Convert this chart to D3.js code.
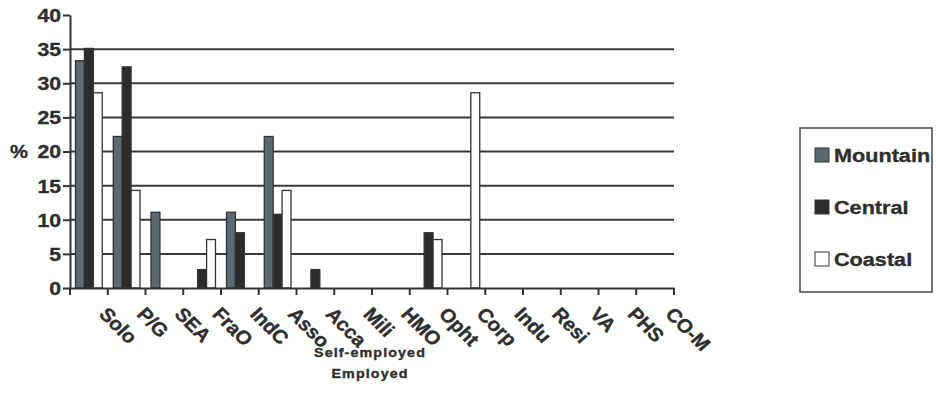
<!DOCTYPE html>
<html>
<head>
<meta charset="utf-8">
<script src="https://cdn.jsdelivr.net/npm/d3@7/dist/d3.min.js"></script>
<style>
  html, body { margin: 0; padding: 0; background: #ffffff; }
  svg { display: block; }
  text { font-family: "Liberation Sans", Arial, sans-serif; font-weight: bold; fill: #2e2e2e;
         stroke: #2e2e2e; stroke-width: 0.35px; }
</style>
</head>
<body>
<svg id="chart" width="936" height="413"></svg>
<script>
// Practice types along the x axis
const categories = ["Solo", "P/G", "SEA", "FraO", "IndC", "Asso", "Acca", "Mili",
                    "HMO", "Opht", "Corp", "Indu", "Resi", "VA", "PHS", "CO-M"];

// Percent of respondents in each region
const mountain = [33.3, 22.2, 11.1, 0, 11.1, 22.2, 0, 0, 0, 0, 0, 0, 0, 0, 0, 0];
const central  = [35.1, 32.4, 0, 2.7, 8.1, 10.8, 2.7, 0, 0, 8.1, 0, 0, 0, 0, 0, 0];
const coastal  = [28.6, 14.3, 0, 7.1, 0, 14.3, 0, 0, 0, 7.1, 28.6, 0, 0, 0, 0, 0];

const seriesNames = ["Mountain", "Central", "Coastal"];
const yTicks = [0, 5, 10, 15, 20, 25, 30, 35, 40];
const gridValues = [5, 10, 15, 20, 25, 30, 35];
const xTitleLines = ["Self-employed", "Employed"];

const fills = { Mountain: "#5d6971", Central: "#2c2c2c", Coastal: "#ffffff" };
const ink = "#333333";

const svg = d3.select("#chart");

const plot = { left: 70, right: 674, top: 15, bottom: 288 };

const x = d3.scaleBand().domain(categories).range([plot.left, plot.right]).padding(0);
const y = d3.scaleLinear().domain([0, 40]).range([plot.bottom, plot.top]);

const barW = x.bandwidth() * 0.236;
const xs = d3.scaleBand().domain(seriesNames)
  .range([(x.bandwidth() - 3 * barW) / 2, (x.bandwidth() + 3 * barW) / 2]).padding(0);

// horizontal gridlines
svg.append("g").selectAll("line").data(gridValues).join("line")
  .attr("x1", plot.left).attr("x2", plot.right)
  .attr("y1", d => y(d)).attr("y2", d => y(d))
  .attr("stroke", "#3a3a3a").attr("stroke-width", 2);

// bars
const rows = categories.map((c, i) => ({ cat: c, Mountain: mountain[i], Central: central[i], Coastal: coastal[i] }));
const groups = svg.append("g").selectAll("g").data(rows).join("g")
  .attr("transform", d => `translate(${x(d.cat)},0)`);
groups.selectAll("rect")
  .data(d => seriesNames.map(k => ({ key: k, value: d[k] })).filter(v => v.value > 0))
  .join("rect")
  .attr("x", d => xs(d.key))
  .attr("width", xs.bandwidth())
  .attr("y", d => y(d.value))
  .attr("height", d => y(0) - y(d.value))
  .attr("fill", d => fills[d.key])
  .attr("stroke", ink).attr("stroke-width", 1.3);

// y axis
const yAxis = d3.axisLeft(y).tickValues(yTicks).tickSize(7).tickPadding(3).tickSizeOuter(0);
const gy = svg.append("g").attr("transform", `translate(${plot.left},0)`).call(yAxis);
gy.select(".domain").attr("stroke", ink).attr("stroke-width", 2);
gy.selectAll(".tick line").attr("stroke", ink).attr("stroke-width", 2);
gy.selectAll(".tick text")
  .attr("font-size", 18).attr("font-family", null).attr("fill", null)
  .attr("x", null).attr("dy", "0.36em").attr("text-anchor", "end")
  .attr("transform", "translate(-9,0) scale(1.18,1)");

// x axis: ticks at category boundaries
const xAxis = d3.axisBottom(x).tickSize(0).tickFormat("");
const gx = svg.append("g").attr("transform", `translate(0,${plot.bottom})`).call(xAxis);
gx.select(".domain").attr("stroke", ink).attr("stroke-width", 2);
gx.selectAll(".tick").remove();
const bounds = categories.map(c => x(c)).concat([plot.right]);
gx.selectAll("line.bound").data(bounds).join("line").attr("class", "bound")
  .attr("x1", d => d).attr("x2", d => d).attr("y1", 0).attr("y2", 7)
  .attr("stroke", ink).attr("stroke-width", 2);

// rotated category labels
svg.append("g").selectAll("text").data(categories).join("text")
  .attr("font-size", 19)
  .attr("text-anchor", "start")
  .attr("transform", d => `translate(${x(d) + x.bandwidth() / 2 + 9},${plot.bottom + 27}) scale(1.08,1) rotate(47)`)
  .text(d => d);

// y axis title
svg.append("text").attr("x", 19).attr("y", y(20)).attr("dy", "0.36em")
  .attr("text-anchor", "middle").attr("font-size", 18)
  .attr("transform", `translate(19,0) scale(1.12,1) translate(-19,0)`)
  .text("%");

// x axis title, two lines
svg.append("g").selectAll("text").data(xTitleLines).join("text")
  .attr("text-anchor", "middle").attr("font-size", 13)
  .attr("letter-spacing", 1)
  .attr("transform", (d, i) => `translate(370,${357 + i * 21}) scale(1.1,1)`)
  .text(d => d);

// legend
const legend = svg.append("g");
legend.append("rect").attr("x", 800).attr("y", 128).attr("width", 132).attr("height", 164)
  .attr("fill", "#ffffff").attr("stroke", "#444").attr("stroke-width", 1.5);
const items = legend.selectAll("g.item").data(seriesNames).join("g").attr("class", "item")
  .attr("transform", (d, i) => `translate(815,${148 + i * 52})`);
items.append("rect").attr("width", 14).attr("height", 14)
  .attr("fill", d => fills[d]).attr("stroke", ink).attr("stroke-width", 1);
items.append("text").attr("font-size", 18.5).attr("y", 13.5)
  .attr("transform", "translate(19,0) scale(1.17,1)")
  .text(d => d);
</script>
</body>
</html>
